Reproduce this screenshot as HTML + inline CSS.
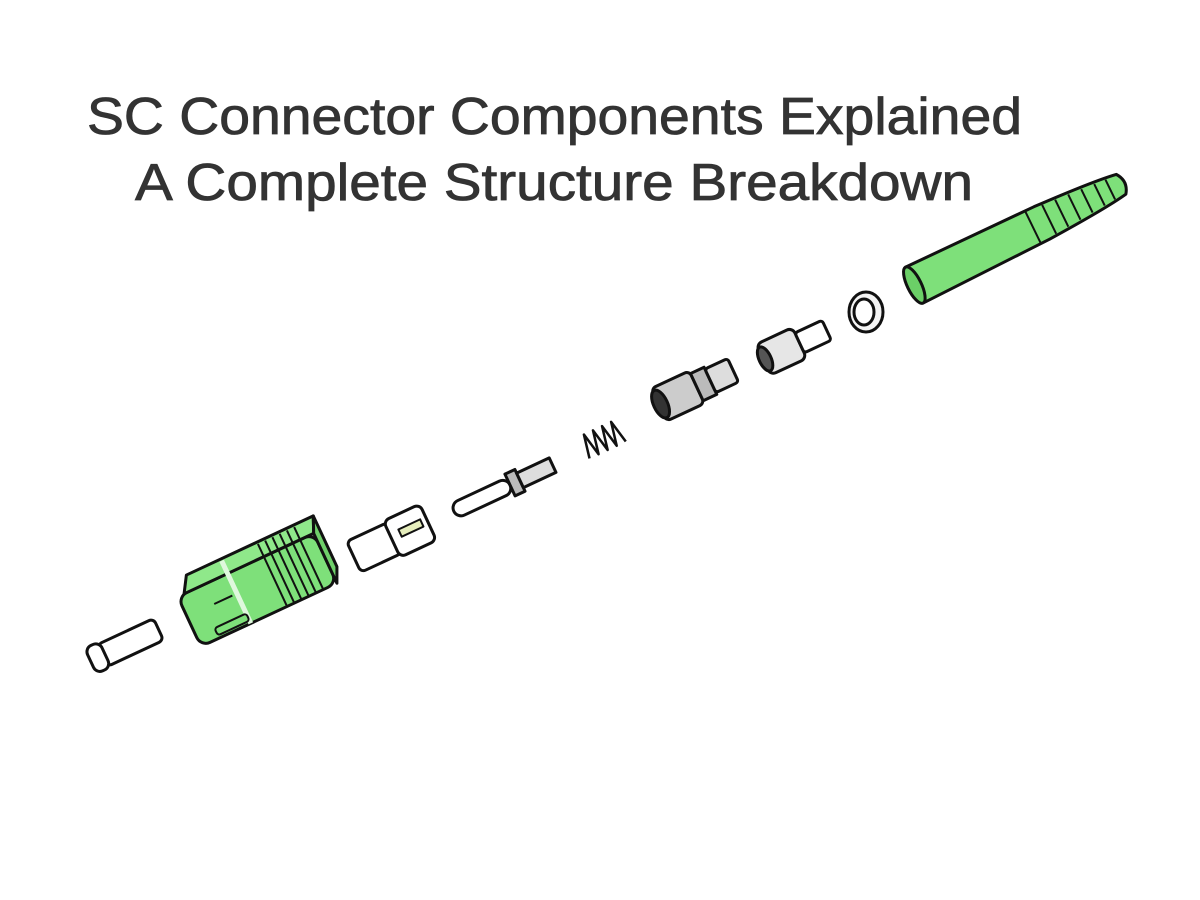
<!DOCTYPE html>
<html><head><meta charset="utf-8"><style>
html,body{margin:0;padding:0;background:#fff;width:1200px;height:900px;overflow:hidden}
</style></head><body>
<svg width="1200" height="900" viewBox="0 0 1200 900" xmlns="http://www.w3.org/2000/svg">
<rect width="1200" height="900" fill="#fff"/>
<g font-family="'Liberation Sans', sans-serif" font-size="52" fill="#333" stroke="#333" stroke-width="0.8">
<text x="87" y="134" textLength="935" lengthAdjust="spacingAndGlyphs">SC Connector Components Explained</text>
<text x="135" y="200" textLength="838" lengthAdjust="spacingAndGlyphs">A Complete Structure Breakdown</text>
</g>
<g stroke="#111" stroke-width="3" stroke-linejoin="round" fill="#fff">
<!-- dust cap -->
<g transform="translate(125,645) rotate(-25)">
<rect x="-25" y="-12" width="62" height="24" rx="5"/>
<rect x="-38" y="-14" width="16" height="28" rx="7"/>
</g>
<!-- green housing -->
<g transform="translate(255,585) rotate(-25)">
<rect x="-75" y="-22" width="150" height="55" rx="10" fill="#7ee07a"/>
<path d="M-68,-22 L-58,-38 L82,-38 L75,-22 Z" fill="#8fe88a"/>
<path d="M75,-22 L82,-38 L82,18 L75,33 Z" fill="#6fd06a"/>
<g stroke-width="2"><line x1="20" y1="-36" x2="20" y2="33"/><line x1="28" y1="-36" x2="28" y2="33"/><line x1="36" y1="-36" x2="36" y2="33"/><line x1="44" y1="-36" x2="44" y2="33"/><line x1="52" y1="-36" x2="52" y2="33"/><line x1="60" y1="-36" x2="60" y2="33"/></g>
<line x1="-20" y1="-36" x2="-20" y2="33" stroke="#dff8dd" stroke-width="5"/>
<path d="M-45,0 L-25,0" fill="none" stroke-width="2"/>
<rect x="-55" y="22" width="35" height="8" rx="3" fill="#7ee07a" stroke-width="2"/>
</g>
<!-- inner housing -->
<g transform="translate(390,540) rotate(-25)">
<rect x="-40" y="-17" width="45" height="34" rx="5"/>
<rect x="2" y="-20" width="40" height="40" rx="6"/>
<rect x="12" y="-6" width="24" height="8" fill="#e6eebc" stroke-width="2"/>
</g>
<!-- ferrule -->
<g transform="translate(510,485) rotate(-25)">
<rect x="-62" y="-8" width="62" height="16" rx="8"/>
<rect x="0" y="-12" width="11" height="24" fill="#bbb"/>
<rect x="11" y="-8" width="36" height="16" fill="#ddd"/>
</g>
<!-- spring -->
<g transform="translate(603,440) rotate(-25)" fill="none" stroke-width="2.5">
<path d="M-20,11 L-15,-13 L-10,11 L-5,-13 L0,11 L5,-13 L10,11 L15,-13 L20,11"/>
</g>
<!-- back body -->
<g transform="translate(695,388) rotate(-25)">
<rect x="-40" y="-18" width="42" height="36" rx="5" fill="#ccc"/>
<ellipse cx="-38" cy="0" rx="7" ry="15" fill="#333"/>
<rect x="2" y="-15" width="15" height="30" fill="#bbb"/>
<rect x="17" y="-13" width="25" height="26" rx="3" fill="#ddd"/>
</g>
<!-- crimp ring -->
<g transform="translate(795,345) rotate(-25)">
<rect x="-35" y="-17" width="40" height="34" rx="6" fill="#e6e6e6"/>
<ellipse cx="-33" cy="0" rx="6" ry="13" fill="#555"/>
<rect x="5" y="-11" width="30" height="22" rx="3"/>
</g>
<!-- ring -->
<ellipse cx="866" cy="312" rx="17" ry="20" fill="#f4f4f4"/>
<ellipse cx="864" cy="312" rx="10" ry="13"/>
<!-- boot -->
<g transform="translate(1015,236) rotate(-26)">
<path d="M-112,-20 L30,-18 Q95,-15 118,-11 Q126,0 118,11 Q95,15 30,18 L-112,20 Z" fill="#7ee07a"/>
<ellipse cx="-112" cy="0" rx="7" ry="20" fill="#6bcf67"/>
<g stroke-width="2" fill="none"><line x1="20" y1="-17" x2="20" y2="17"/><line x1="38" y1="-16" x2="38" y2="16"/><line x1="52" y1="-15" x2="52" y2="15"/><line x1="66" y1="-14" x2="66" y2="14"/><line x1="80" y1="-13" x2="80" y2="13"/><line x1="94" y1="-12" x2="94" y2="12"/><line x1="106" y1="-11" x2="106" y2="11"/></g>
</g>
</g>
</svg>
</body></html>
